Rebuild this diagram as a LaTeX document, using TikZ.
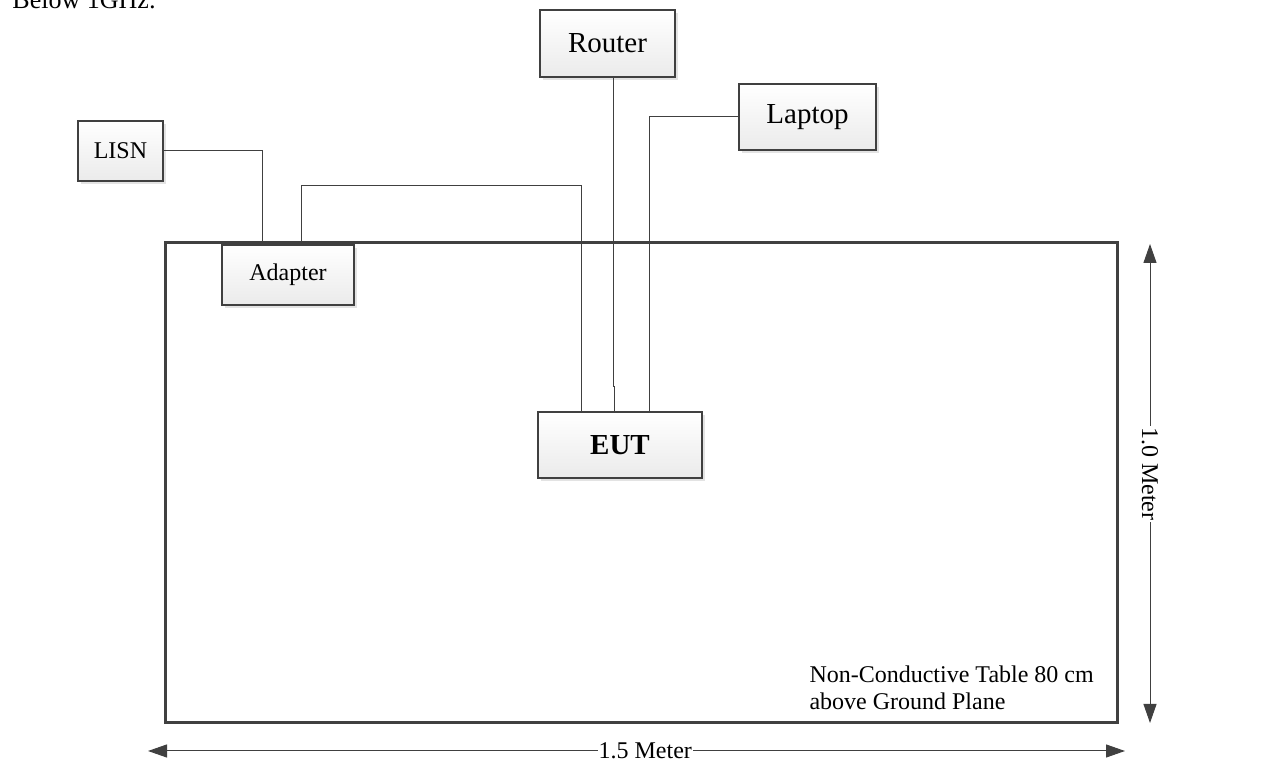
\documentclass[tikz,border=0pt]{standalone}
\usepackage{fontspec}
\setmainfont{Liberation Serif}
\usetikzlibrary{arrows.meta,shadows,positioning,calc}
\definecolor{edgegray}{HTML}{404040}
\tikzset{
every picture/.style={
line width=1pt
}}
\tikzset{
  box/.style={
    draw=edgegray,
    line width=2.5pt,
    inner sep=0pt,
    top color=white,
    bottom color=gray!16,
    drop shadow={shadow xshift=3pt, shadow yshift=-3pt, opacity=1, fill=gray!22},
    font=\fontsize{24}{27}\selectfont
  },
  bigbox/.style={box, font=\fontsize{29}{32}\selectfont},
  wire/.style={draw=edgegray, line width=1pt},
  dim/.style={
    draw=edgegray,
    line width=1pt,
    {Triangle[length=19pt,width=13pt]}-{Triangle[length=19pt,width=13pt]}
  },
  dimlabel/.style={fill=white, inner sep=1pt, font=\fontsize{24}{27}\selectfont}
}
\begin{document}
\begin{tikzpicture}[x=1pt,y=1pt]
  \useasboundingbox (0,0) rectangle (1280,768);

  \node [anchor=base west, inner sep=0pt, font=\fontsize{26}{29}\selectfont] (title) at (12,759) {Below 1GHz:};

  % table
  \draw [edgegray, line width=3pt] (165,45) rectangle (1117,525);
  \node [anchor=south west, inner sep=0pt, align=left, font=\fontsize{24}{27}\selectfont] (note) at (809,58) {Non-Conductive Table 80 cm\\above Ground Plane};

  % equipment
  \node [box, minimum width=85pt, minimum height=60pt] (lisn) at (120.5,617) {LISN};
  \node [box, minimum width=132pt, minimum height=60pt] (adapter) at (288,493) {Adapter};
  \node [bigbox, minimum width=135pt, minimum height=67pt] (router) at (607.5,724.5) {Router};
  \node [bigbox, minimum width=137pt, minimum height=66pt] (laptop) at (807.5,651) {Laptop};
  \node [bigbox, minimum width=164pt, minimum height=66pt] (eut) at (620,323) {\textbf{EUT}};

  % cables
  \draw [wire] (lisn.east) -| ([xshift=-26pt]adapter.north);
  \draw [wire] ([xshift=13pt]adapter.north) -- ++(0,58) -| ([xshift=-39pt]eut.north);
  \draw [wire] ([xshift=5.5pt]router.south) -- ++(0,-308) -| ([xshift=-6pt]eut.north);
  \draw [wire] (laptop.west) -| ([xshift=29pt]eut.north);

  % dimensions
  \coordinate (vtop) at (1150,524);
  \coordinate (vbot) at (1150,45);
  \coordinate (hleft) at (148,17);
  \coordinate (hright) at (1125,17);
  \draw [dim] (vtop) -- node [dimlabel, rotate=-90, pos=0.48] (vlen) {1.0 Meter} (vbot);
  \draw [dim] (hleft) -- node [dimlabel, pos=0.509] (hlen) {1.5 Meter} (hright);
\end{tikzpicture}
\end{document}
